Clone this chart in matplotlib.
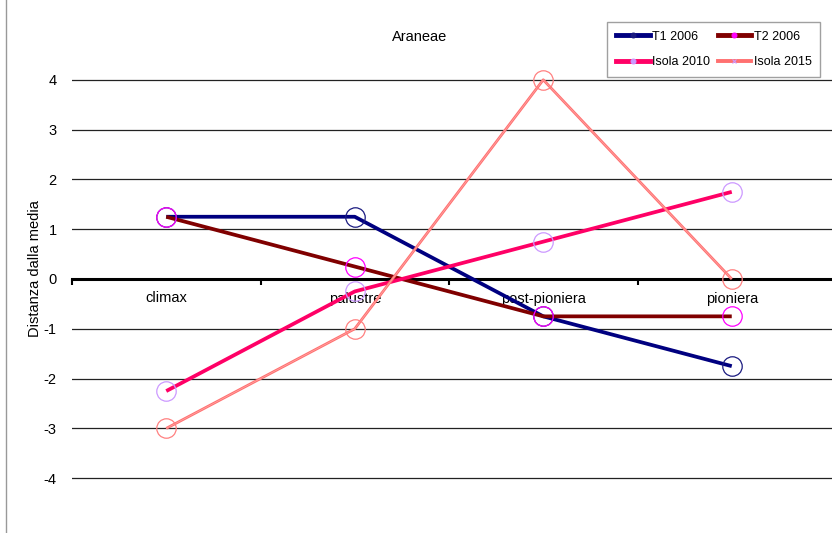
import matplotlib
matplotlib.use("Agg")
import matplotlib.pyplot as plt
from matplotlib.lines import Line2D

plt.rcParams['font.family'] = ['Liberation Sans', 'DejaVu Sans']

categories = ["climax", "palustre", "post-pioniera", "pioniera"]
t1_2006 = [1.25, 1.25, -0.75, -1.75]
t2_2006 = [1.25, 0.25, -0.75, -0.75]
isola_2010 = [-2.25, -0.25, 0.75, 1.75]
isola_2015 = [-3.0, -1.0, 4.0, 0.0]
y_ticks = [-4, -3, -2, -1, 0, 1, 2, 3, 4]

series = [
    ("T1 2006", t1_2006, "#000080", 2.7, "#1a1a80", "o"),
    ("T2 2006", t2_2006, "#800000", 2.7, "#ff00ff", "o"),
    ("Isola 2010", isola_2010, "#ff0066", 2.7, "#cc99ff", "o"),
    ("Isola 2015", isola_2015, "#ff7070", 2.0, "#ff8080", "x"),
]

fig = plt.figure(figsize=(8.32, 5.33), dpi=100)
ax = fig.add_axes([72 / 832, 5 / 533, 760 / 832, 498 / 533])

x = list(range(len(categories)))

# horizontal gridlines
for yv in y_ticks:
    if yv != 0:
        ax.axhline(yv, color="#222222", lw=0.9, zorder=1)

for name, vals, col, lw, mcol, lm in series:
    ax.plot(x, vals, color=col, lw=lw, zorder=3, solid_capstyle="butt")
    if name == "Isola 2015":
        # lighter core gives the thin line its doubled look
        ax.plot(x, vals, color="#ffa8a8", lw=0.5, zorder=3)
    ax.plot(x, vals, ls="none", marker="o", ms=14, mfc="none",
            mec=mcol, mew=0.9, zorder=4)

ax.set_xlim(-0.5, 3.5 + 6 / 188.5)
ax.set_ylim(-5, 5)

for s in ["top", "right", "left"]:
    ax.spines[s].set_visible(False)
ax.spines["bottom"].set_position(("data", 0))
ax.spines["bottom"].set_linewidth(2.2)
ax.spines["bottom"].set_color("black")
ax.spines["bottom"].set_zorder(2)

ax.set_yticks(y_ticks)
ax.set_yticklabels([str(v) for v in y_ticks], fontsize=10.5)
ax.tick_params(axis="y", length=0, pad=11)

ax.set_xticks([-0.5, 0.5, 1.5, 2.5])
ax.set_xticklabels([])
ax.tick_params(axis="x", which="major", length=4, width=1.5, direction="out")
ax.set_xticks(x, minor=True)
ax.set_xticklabels(categories, minor=True, fontsize=10.5)
ax.tick_params(axis="x", which="minor", length=0, pad=9)

ax.set_ylabel("Distanza dalla media", fontsize=10.5)
ax.yaxis.set_label_coords(-0.040, 0.52)

fig.text(420 / 832, 1 - 37 / 533, "Araneae", ha="center", va="center", fontsize=10.5)

handles = {
    name: Line2D([0], [0], color=col, lw=lw + 0.8, marker=lm, ms=3.5,
                 mfc=mcol, mec=("#cc99ff" if lm == "x" else mcol), mew=0.8)
    for name, vals, col, lw, mcol, lm in series
}
# two rows: T1/T2 on top, Isola 2010/2015 below (legend fills column-wise)
order = ["T1 2006", "Isola 2010", "T2 2006", "Isola 2015"]
leg = fig.legend([handles[n] for n in order], order, ncol=2, loc="upper left",
                 bbox_to_anchor=(607 / 832, 1 - 22 / 533),
                 fontsize=9, frameon=True, fancybox=False,
                 handlelength=2.7, handletextpad=0.2, columnspacing=0.6,
                 borderpad=0.7, labelspacing=1.05, borderaxespad=0)
leg.get_frame().set_edgecolor("#888888")
leg.get_frame().set_linewidth(1.0)

fig.add_artist(Line2D([6 / 832, 6 / 832], [0, 1], color="#999999", lw=1.0,
                      transform=fig.transFigure))

fig.savefig("out.png", dpi=100)
